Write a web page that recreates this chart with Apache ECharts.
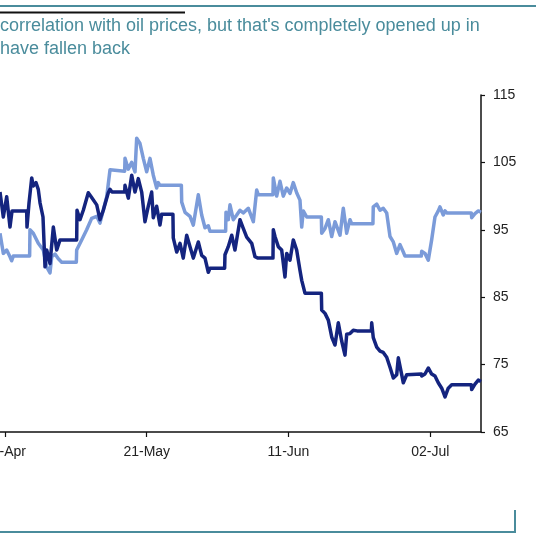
<!DOCTYPE html>
<html>
<head>
<meta charset="utf-8">
<title>Oil correlation</title>
<script src="https://cdn.jsdelivr.net/npm/echarts@6/dist/echarts.min.js"></script>
<style>
  html, body { margin: 0; padding: 0; background: #fff; }
  #chart { width: 541px; height: 541px; }
</style>
</head>
<body>
<div id="chart"></div>
<script>
// x values are days since 30-Apr-2020
var tickDays = [0, 21, 42, 63];
var tickLabels = ['30-Apr', '21-May', '11-Jun', '02-Jul'];

var darkDays = [-0.74, -0.25, 0.25, 0.74, 1.04, 3.21, 3.26, 3.56, 3.96, 4.19, 4.59, 4.93, 5.19, 5.63, 5.93, 6.18, 6.67, 7.16, 7.66, 8.15, 8.44,
  10.62, 10.67, 11.11, 11.60, 12.34, 12.84, 13.59, 14.07, 14.56, 15.30, 15.56, 15.85,
  17.73, 17.78, 18.27, 18.77, 19.26, 19.75, 20.25, 20.74, 21.23, 21.73, 21.97, 22.47, 22.96, 23.21,
  24.88, 24.93, 25.44, 25.93, 26.41, 26.92, 27.41, 27.90, 28.64, 29.14, 29.63, 30.12, 30.37,
  32.54, 32.59, 33.08, 33.59, 34.07, 34.81, 35.30, 35.81, 36.55, 37.04, 37.48,
  39.70, 39.75, 40.00, 40.49, 40.99, 41.48, 41.73, 42.22, 42.71, 43.21, 43.70, 43.96, 44.44, 44.74,
  46.87, 46.92, 47.41, 47.90, 48.40, 48.89, 49.38, 49.88, 50.37, 50.62, 51.11, 51.60, 52.15,
  54.28, 54.33, 54.56, 55.07, 55.56, 56.04, 56.55, 57.04, 57.53, 58.03, 58.27, 58.77, 59.01, 59.51, 59.75,
  61.68, 61.73, 62.22, 62.71, 63.21, 63.70, 64.19, 64.70, 65.19, 65.67, 66.18, 66.37,
  69.09, 69.14, 69.63, 70.12, 70.52];
var darkValues = [100.6, 96.9, 99.9, 95.4, 97.8, 97.8, 95.4, 99.0, 102.7, 101.5, 102.0, 101.0, 99.0, 96.9, 89.5, 92.0, 90.0, 95.4, 92.0, 93.5, 93.5,
  93.5, 97.9, 96.5, 97.9, 100.5, 99.8, 98.7, 96.5, 97.9, 100.5, 101.0, 100.6,
  100.6, 101.6, 99.7, 103.1, 100.6, 102.6, 100.6, 96.2, 98.5, 100.6, 96.8, 98.5, 95.7, 97.3,
  97.3, 93.8, 91.7, 93.0, 90.8, 94.2, 92.5, 90.8, 93.2, 91.2, 90.8, 88.7, 89.3,
  89.3, 91.3, 92.5, 94.2, 92.0, 96.5, 95.2, 93.9, 93.0, 91.0, 90.8,
  90.8, 95.0, 94.0, 92.5, 92.0, 88.0, 91.5, 90.5, 93.5, 92.0, 89.0, 87.5, 85.6, 85.6,
  85.6, 83.1, 82.6, 81.6, 79.1, 77.9, 81.2, 78.5, 76.4, 79.5, 79.6, 80.1, 80.0,
  80.0, 81.2, 79.0, 77.6, 77.0, 76.8, 76.1, 74.6, 73.0, 73.5, 76.0, 73.5, 72.3, 73.5, 73.6,
  73.6, 73.3, 73.6, 74.5, 73.6, 73.3, 72.3, 71.5, 70.2, 71.5, 72.0, 72.0,
  72.0, 71.3, 72.1, 72.7, 72.5];

var lightDays = [-0.74, -0.25, 0.25, 0.74, 0.99, 1.23, 3.65, 3.70, 4.19, 4.93, 5.67, 6.18, 6.67, 6.92, 7.41, 7.90, 8.40, 8.64,
  10.57, 10.62, 11.36, 12.10, 12.84, 13.59, 14.07, 14.56, 15.07, 15.56, 15.81,
  17.73, 17.78, 18.27, 18.77, 19.26, 19.51, 20.00, 20.49, 20.99, 21.48, 21.97, 22.47, 22.71, 22.96,
  26.13, 26.18, 26.67, 27.41, 27.90, 28.64, 29.14, 29.63, 30.12, 30.37,
  32.69, 32.74, 33.08, 33.33, 33.82, 34.33, 34.81, 35.30, 36.04, 36.79, 37.29, 37.53,
  39.70, 39.75, 40.25, 40.74, 41.23, 41.73, 42.22, 42.71, 43.21, 43.70, 43.96, 44.19, 44.70,
  46.87, 46.92, 47.41, 47.90, 48.40, 48.89, 49.63, 50.12, 50.62, 51.11, 51.36,
  54.51, 54.56, 55.07, 55.56, 56.04, 56.55, 57.04, 57.53, 58.03, 58.52, 59.01, 59.26, 59.51,
  61.68, 61.73, 62.22, 62.71, 63.21, 63.70, 64.19, 64.44, 64.93, 65.19, 65.44,
  69.09, 69.14, 69.63, 70.12, 70.52];
var lightValues = [94.5, 91.5, 92.0, 91.0, 90.4, 91.1, 91.1, 95.0, 94.5, 93.0, 92.0, 89.5, 88.6, 91.0, 91.4, 90.7, 90.2, 90.2,
  90.2, 92.0, 93.5, 95.0, 96.7, 97.0, 96.0, 97.9, 99.9, 103.9, 103.7,
  103.7, 105.6, 104.0, 105.0, 103.6, 108.6, 107.8, 105.6, 103.6, 105.6, 103.1, 101.2, 102.0, 101.6,
  101.6, 99.1, 97.6, 97.0, 95.7, 100.2, 97.2, 95.3, 95.6, 94.8,
  94.8, 97.6, 96.5, 98.7, 96.5, 97.2, 97.9, 97.5, 98.2, 96.2, 100.9, 100.2,
  100.2, 102.7, 100.0, 102.2, 100.0, 101.2, 100.4, 102.0, 100.5, 99.4, 95.4, 97.8, 96.9,
  96.9, 94.5, 95.2, 96.5, 94.0, 96.2, 94.2, 98.2, 94.5, 96.5, 95.9,
  95.9, 98.4, 98.8, 97.9, 98.2, 97.5, 94.0, 93.2, 91.5, 92.8, 91.7, 91.1, 91.1,
  91.1, 91.8, 91.5, 90.5, 93.5, 96.9, 97.8, 98.4, 97.2, 97.8, 97.5,
  97.5, 96.8, 97.4, 97.8, 97.6];

var titleLines = [
  "correlation with oil prices, but that's completely opened up in",
  'have fallen back'
];

function pairs(xs, ys) {
  var out = [];
  for (var i = 0; i < xs.length; i++) {
    out.push([xs[i], ys[i]]);
  }
  return out;
}

var teal = '#4a8c9c';
var font = '"Liberation Sans", Arial, sans-serif';
var chart = echarts.init(document.getElementById('chart'));

var option = {
  animation: false,
  backgroundColor: '#fff',
  grid: { left: 0, right: 60, top: 95, bottom: 109, outerBoundsMode: 'none', containLabel: false },
  xAxis: {
    type: 'value',
    min: -0.74,
    max: 70.52,
    axisLine: { show: true, onZero: false, lineStyle: { color: '#111', width: 1.5 } },
    axisTick: { show: true, customValues: tickDays, length: 5, lineStyle: { color: '#111', width: 1.2 } },
    axisLabel: {
      customValues: tickDays,
      margin: 13,
      color: '#222',
      fontFamily: font,
      fontSize: 14,
      formatter: function (v) {
        var i = tickDays.indexOf(Math.round(v));
        return i >= 0 ? tickLabels[i] : '';
      }
    },
    splitLine: { show: false }
  },
  yAxis: {
    type: 'value',
    position: 'right',
    min: 65,
    max: 115,
    interval: 10,
    axisLine: { show: true, onZero: false, lineStyle: { color: '#111', width: 1.5 } },
    axisTick: { show: true, length: 4, lineStyle: { color: '#111', width: 1.2 } },
    axisLabel: {
      margin: 12,
      color: '#222',
      fontFamily: font,
      fontSize: 14
    },
    splitLine: { show: false }
  },
  series: [
    {
      name: 'light',
      type: 'line',
      showSymbol: false,
      data: pairs(lightDays, lightValues),
      lineStyle: { color: '#7b9bd9', width: 3.5, join: 'round' },
      z: 2
    },
    {
      name: 'dark',
      type: 'line',
      showSymbol: false,
      data: pairs(darkDays, darkValues),
      lineStyle: { color: '#14247f', width: 3.5, join: 'round' },
      z: 3
    }
  ],
  graphic: [
    { type: 'line', shape: { x1: 0, y1: 6, x2: 536, y2: 6 }, style: { stroke: teal, lineWidth: 2 } },
    { type: 'line', shape: { x1: 0, y1: 12.5, x2: 185, y2: 12.5 }, style: { stroke: '#111', lineWidth: 2 } },
    { type: 'text', x: 0, y: 26, style: { text: titleLines[0], fill: teal, font: '18px ' + font, verticalAlign: 'middle' } },
    { type: 'text', x: 0, y: 49, style: { text: titleLines[1], fill: teal, font: '18px ' + font, verticalAlign: 'middle' } },
    { type: 'line', shape: { x1: 0, y1: 532, x2: 515, y2: 532 }, style: { stroke: teal, lineWidth: 2 } },
    { type: 'line', shape: { x1: 515, y1: 510, x2: 515, y2: 533 }, style: { stroke: teal, lineWidth: 2 } }
  ]
};

chart.setOption(option);
</script>
</body>
</html>
